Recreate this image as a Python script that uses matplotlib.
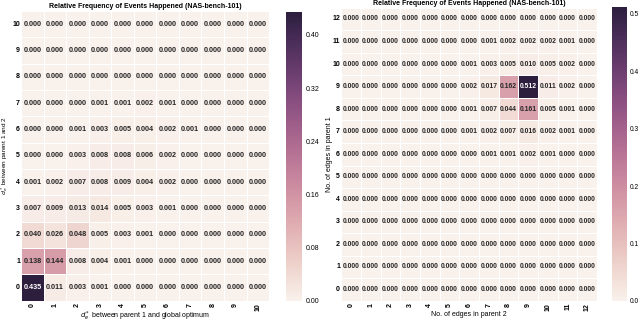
import numpy as np
import matplotlib
matplotlib.use("Agg")
import matplotlib.pyplot as plt
import seaborn as sns

# left panel: d_e* between parent 1 and global optimum (columns) vs between parent 1 and 2 (rows)
left_ticks = list(range(11))
left_rows = [
    [0.435, 0.011, 0.003, 0.001, 0.000, 0.000, 0.000, 0.000, 0.000, 0.000, 0.000],  # 0
    [0.138, 0.144, 0.008, 0.004, 0.001, 0.000, 0.000, 0.000, 0.000, 0.000, 0.000],  # 1
    [0.040, 0.026, 0.048, 0.005, 0.003, 0.001, 0.000, 0.000, 0.000, 0.000, 0.000],  # 2
    [0.007, 0.009, 0.013, 0.014, 0.005, 0.003, 0.001, 0.000, 0.000, 0.000, 0.000],  # 3
    [0.001, 0.002, 0.007, 0.008, 0.009, 0.004, 0.002, 0.000, 0.000, 0.000, 0.000],  # 4
    [0.000, 0.000, 0.003, 0.008, 0.008, 0.006, 0.002, 0.000, 0.000, 0.000, 0.000],  # 5
    [0.000, 0.000, 0.001, 0.003, 0.005, 0.004, 0.002, 0.001, 0.000, 0.000, 0.000],  # 6
    [0.000, 0.000, 0.000, 0.001, 0.001, 0.002, 0.001, 0.000, 0.000, 0.000, 0.000],  # 7
    [0.000] * 11,  # 8
    [0.000] * 11,  # 9
    [0.000] * 11,  # 10
]

# right panel: no. of edges in parent 2 (columns) vs parent 1 (rows)
right_ticks = list(range(13))
right_rows = [
    [0.000] * 13,  # 0
    [0.000] * 13,  # 1
    [0.000] * 13,  # 2
    [0.000] * 13,  # 3
    [0.000] * 13,  # 4
    [0.000] * 13,  # 5
    [0.000, 0.000, 0.000, 0.000, 0.000, 0.000, 0.000, 0.001, 0.001, 0.002, 0.001, 0.000, 0.000],  # 6
    [0.000, 0.000, 0.000, 0.000, 0.000, 0.000, 0.001, 0.002, 0.007, 0.016, 0.002, 0.001, 0.000],  # 7
    [0.000, 0.000, 0.000, 0.000, 0.000, 0.000, 0.001, 0.007, 0.044, 0.161, 0.005, 0.001, 0.000],  # 8
    [0.000, 0.000, 0.000, 0.000, 0.000, 0.000, 0.002, 0.017, 0.162, 0.512, 0.011, 0.002, 0.000],  # 9
    [0.000, 0.000, 0.000, 0.000, 0.000, 0.000, 0.001, 0.003, 0.005, 0.010, 0.005, 0.002, 0.000],  # 10
    [0.000, 0.000, 0.000, 0.000, 0.000, 0.000, 0.000, 0.001, 0.002, 0.002, 0.002, 0.001, 0.000],  # 11
    [0.000] * 13,  # 12
]

title = "Relative Frequency of Events Happened (NAS-bench-101)"

plt.rcParams['font.family'] = ['Liberation Sans', 'DejaVu Sans']
plt.rcParams['mathtext.fontset'] = 'dejavusans'

cmap = sns.cubehelix_palette(light=0.95, as_cmap=True)

fig = plt.figure(figsize=(6.4, 3.22), dpi=100)
ax1 = fig.add_axes([0.033, 0.066, 0.3875, 0.900])
cax1 = fig.add_axes([0.447, 0.066, 0.025, 0.898])
ax2 = fig.add_axes([0.533, 0.066, 0.400, 0.910])
cax2 = fig.add_axes([0.956, 0.066, 0.023, 0.912])

def draw(ax, cax, rows, ticks, fs, cticks):
    data = np.array(rows)[::-1]
    sns.heatmap(data, ax=ax, cbar_ax=cax, cmap=cmap, annot=True, fmt=".3f",
                annot_kws={"fontsize": fs, "fontweight": "bold"},
                linewidths=0.4, linecolor="white",
                xticklabels=ticks, yticklabels=ticks[::-1],
                cbar_kws={"ticks": cticks})
    ax.tick_params(axis="x", length=0, labelsize=5, pad=1.5)
    ax.tick_params(axis="y", length=0, labelsize=5, pad=0.8)
    plt.setp(ax.get_xticklabels(), rotation=90, fontweight="bold")
    plt.setp(ax.get_yticklabels(), rotation=0, fontweight="bold")
    ax.set_title(title, fontsize=5, fontweight="bold", pad=2)
    cax.tick_params(length=0, labelsize=5, pad=3)
    for s in cax.spines.values():
        s.set_visible(False)

draw(ax1, cax1, left_rows, left_ticks, 5.2,
     [0.0, 0.08, 0.16, 0.24, 0.32, 0.40])
cax1.set_yticklabels(["0.00", "0.08", "0.16", "0.24", "0.32", "0.40"])
ax1.set_xlabel(r"$d_e^*$ between parent 1 and global optimum", fontsize=5)
ax1.set_ylabel(r"$d_e^*$ between parent 1 and 2", fontsize=4.6)
ax1.xaxis.set_label_coords(0.5, -0.032)
ax1.yaxis.set_label_coords(-0.043, 0.5)

draw(ax2, cax2, right_rows, right_ticks, 4.9,
     [0.0, 0.1, 0.2, 0.3, 0.4, 0.5])
cax2.set_yticklabels(["0.0", "0.1", "0.2", "0.3", "0.4", "0.5"])
cax2.tick_params(labelsize=4.8, pad=2)
ax2.set_xlabel("No. of edges in parent 2", fontsize=5)
ax2.set_ylabel("No. of edges in parent 1", fontsize=5)
ax2.xaxis.set_label_coords(0.5, -0.034)
ax2.yaxis.set_label_coords(-0.03, 0.5)

fig.savefig("out.png", dpi=100)
